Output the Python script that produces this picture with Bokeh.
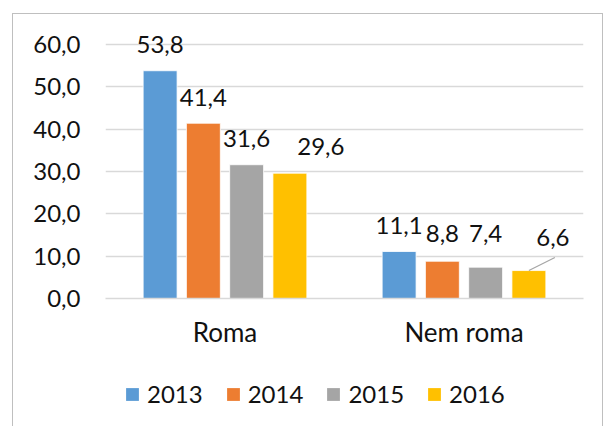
from bokeh.plotting import figure
from bokeh.layouts import column
from bokeh.models import (ColumnDataSource, FactorRange, Range1d, FixedTicker,
                          CustomJSTickFormatter, Legend, LegendItem)
from bokeh.transform import dodge
from bokeh.core.properties import value
from bokeh.embed import file_html
from bokeh.resources import INLINE

# ---- data ----
categories = ["Roma", "Nem roma"]
years = ["2013", "2014", "2015", "2016"]
v2013 = [53.8, 11.1]
v2014 = [41.4, 8.8]
v2015 = [31.6, 7.4]
v2016 = [29.6, 6.6]
y_ticks = [0, 10, 20, 30, 40, 50, 60]

# ---- style / layout ----
series = [v2013, v2014, v2015, v2016]
colors = ["#5B9BD5", "#ED7D31", "#A5A5A5", "#FFC000"]
offsets = [-0.2715, -0.0905, 0.0905, 0.2715]
bar_w = 0.142
label_dx = [[0, 0], [0, 0], [0, 0], [31, 24]]
label_dy = [[-26, -26], [-26, -28], [-26, -34], [-27, -33]]
FONT = "Lato"
FS = "24px"
TXT = "#111111"
BC = "#bfbfbf"

W, H = 614, 360
LH = 66
ML, MR, MT, MB = 105, 31, 20, 62
Y_MAX = 65.67
px_per_unit = (H - MT - MB) / Y_MAX
px_per_cat = (W - ML - MR) / len(categories)

p = figure(width=W, height=H, x_range=FactorRange(*categories, range_padding=0),
           y_range=Range1d(0, Y_MAX), output_backend="svg", toolbar_location=None,
           min_border_left=ML, min_border_right=MR, min_border_top=MT, min_border_bottom=MB)
p.outline_line_color = None
p.background_fill_color = None
p.border_fill_color = None
p.styles = {
    "background-color": "white",
    "background-image": (f"linear-gradient({BC},{BC}), linear-gradient({BC},{BC}), "
                         f"linear-gradient({BC},{BC})"),
    "background-size": f"591px 1px, 1px {H}px, 1px {H}px",
    "background-position": "12px 13px, 12px 13px, 602px 13px",
    "background-repeat": "no-repeat",
}

p.xgrid.grid_line_color = None
p.ygrid.grid_line_color = "#d9d9d9"
p.ygrid.grid_line_width = 1.3

p.yaxis.ticker = FixedTicker(ticks=y_ticks)
p.yaxis.formatter = CustomJSTickFormatter(code="return tick.toFixed(1).replace('.', ',');")
p.yaxis.axis_line_color = None
p.yaxis.major_tick_line_color = None
p.yaxis.minor_tick_line_color = None
p.yaxis.major_tick_out = 0
p.yaxis.major_tick_in = 0
p.yaxis.major_label_standoff = 25
p.yaxis.major_label_text_font = FONT
p.yaxis.major_label_text_font_size = FS
p.yaxis.major_label_text_color = TXT

p.xaxis.axis_line_color = "#d9d9d9"
p.xaxis.axis_line_width = 1.3
p.xaxis.major_tick_line_color = None
p.xaxis.major_tick_out = 0
p.xaxis.major_tick_in = 0
p.xaxis.major_label_standoff = 17
p.xaxis.major_label_text_font = FONT
p.xaxis.major_label_text_font_size = "26px"
p.xaxis.major_label_text_color = TXT

for i, vals in enumerate(series):
    src = ColumnDataSource(dict(
        cat=categories, v=vals,
        lbl=[f"{x:.1f}".replace(".", ",") for x in vals],
        dx=label_dx[i], dy=label_dy[i]))
    p.vbar(x=dodge("cat", offsets[i], range=p.x_range), top="v", width=bar_w,
           source=src, fill_color=colors[i], line_color="white", line_width=0.8)
    p.text(x=dodge("cat", offsets[i], range=p.x_range), y="v", text="lbl", source=src,
           x_offset="dx", y_offset="dy", text_align="center", text_baseline="middle",
           text_font=value(FONT), text_font_size=FS, text_color=TXT)

# leader line for the displaced last label
lead = ColumnDataSource(dict(cat=[categories[1]], y0=[v2016[1]],
                             y1=[v2016[1] + 13 / px_per_unit]))
p.segment(x0=dodge("cat", offsets[3], range=p.x_range), y0="y0",
          x1=dodge("cat", offsets[3] + 26 / px_per_cat, range=p.x_range), y1="y1",
          source=lead, line_color="#a6a6a6", line_width=1.2)

# ---- legend strip (frame aligned with the chart above) ----
pl = figure(width=W, height=LH, x_range=FactorRange(*categories, range_padding=0),
            y_range=Range1d(-2, -1), output_backend="svg", toolbar_location=None,
            x_axis_location=None, y_axis_location=None,
            min_border_left=ML, min_border_right=MR, min_border_top=0, min_border_bottom=0)
pl.outline_line_color = None
pl.background_fill_color = None
pl.border_fill_color = None
pl.xgrid.grid_line_color = None
pl.ygrid.grid_line_color = None
pl.styles = {
    "background-color": "white",
    "background-image": f"linear-gradient({BC},{BC}), linear-gradient({BC},{BC})",
    "background-size": f"1px {LH}px, 1px {LH}px",
    "background-position": "12px 0px, 602px 0px",
    "background-repeat": "no-repeat",
}
items = []
for i, (vals, yr) in enumerate(zip(series, years)):
    # empty-area, off-range proxies: they only carry the legend swatch style
    src = ColumnDataSource(dict(cat=categories, v=vals))
    r = pl.vbar(x=dodge("cat", offsets[i], range=pl.x_range), top="v", bottom="v",
                width=0, source=src, fill_color=colors[i], line_color=None)
    items.append(LegendItem(label=yr, renderers=[r]))

legend = Legend(items=items, orientation="horizontal", location=(19, 18),
                glyph_width=16, glyph_height=16, label_standoff=7, spacing=22,
                padding=0, margin=0, border_line_color=None, background_fill_alpha=0,
                label_text_font=FONT, label_text_font_size=FS, label_text_color=TXT,
                label_height=16)
pl.add_layout(legend)

layout = column(p, pl, spacing=0)
open("out.html", "w").write(file_html(layout, INLINE))
